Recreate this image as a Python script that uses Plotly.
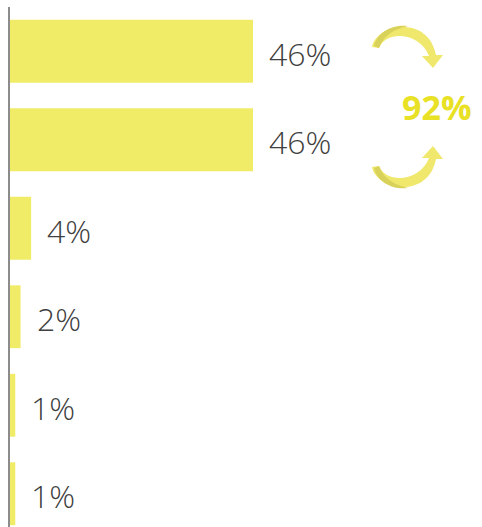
import plotly.graph_objects as go

categories = ["A", "B", "C", "D", "E", "F"]
values = [46, 46, 4, 2, 1, 1]
labels = ["46%", "46%", "4%", "2%", "1%", "1%"]
total_label = "92%"

BAR = "#f1ec68"
ARROW = "#efe86c"
ARROW_DARK = "#d9d25a"
TOTAL = "#e9e125"
TEXT = "#404040"

W, H = 482, 527
ML, MT = 10, 7
PW, PH = W - ML, H - MT

def px(x, y):
    return (x - ML) / PW, 1 - (y - MT) / PH

def path(cmds):
    out = []
    for cmd, pts in cmds:
        if cmd == "C":
            s = "C"
            for (x, y) in pts:
                xx, yy = px(x, y)
                s += f" {xx:.5f},{yy:.5f}"
            out.append(s)
        else:
            for (x, y) in pts:
                xx, yy = px(x, y)
                out.append(f"{cmd} {xx:.5f},{yy:.5f}")
    return " ".join(out) + " Z"

def arrow(flip, cy):
    def f(x, y):
        return (x, 2 * cy - y) if flip else (x, y)
    cmds = [
        ("M", [f(372, 47)]),
        ("C", [f(376, 24), f(428, 14), f(436, 55)]),
        ("L", [f(443, 55)]),
        ("L", [f(433, 68)]),
        ("L", [f(422, 56)]),
        ("L", [f(429, 56)]),
        ("C", [f(420, 32), f(386, 30), f(379, 48)]),
    ]
    return path(cmds)

def shade(flip, cy):
    def f(x, y):
        return (x, 2 * cy - y) if flip else (x, y)
    cmds = [
        ("M", [f(374, 46)]),
        ("C", [f(378, 30), f(395, 24), f(408, 26)]),
        ("C", [f(396, 29), f(384, 34), f(379, 48)]),
    ]
    return path(cmds)

fig = go.Figure()
fig.add_trace(go.Bar(
    y=categories, x=values, orientation="h",
    marker=dict(color=BAR, line=dict(width=0)),
    hoverinfo="skip",
))

for c, v, t in zip(categories, values, labels):
    fig.add_annotation(x=v, y=c, text=t, showarrow=False, xanchor="left",
                       xshift=14, yshift=-2,
                       font=dict(family="Open Sans", size=32, color=TEXT, weight=300))

cy = 107
for flip in (False, True):
    fig.add_shape(type="path", path=arrow(flip, cy), xref="paper", yref="paper",
                  fillcolor=ARROW, line=dict(width=0), layer="above")
    fig.add_shape(type="path", path=shade(flip, cy), xref="paper", yref="paper",
                  fillcolor=ARROW_DARK, line=dict(width=0), layer="above")

tx, ty = px(437, cy)
fig.add_annotation(x=tx, y=ty, xref="paper", yref="paper", text=f"<b>{total_label}</b>",
                   showarrow=False, xanchor="center", yanchor="middle",
                   font=dict(family="Open Sans", size=34, color=TOTAL))

rng_bottom = -0.5 + PH / 88.5
fig.update_layout(
    width=W, height=H,
    margin=dict(l=ML, r=0, t=MT, b=0),
    paper_bgcolor="white", plot_bgcolor="white",
    bargap=0.29, showlegend=False,
    xaxis=dict(range=[0, PW / (243 / 46)], visible=False, fixedrange=True),
    yaxis=dict(range=[rng_bottom, -0.5], showticklabels=False, ticks="",
               showgrid=False, zeroline=False, showline=True,
               linecolor="#8c8c8c", linewidth=2, fixedrange=True),
)

fig.write_html("out.html")
